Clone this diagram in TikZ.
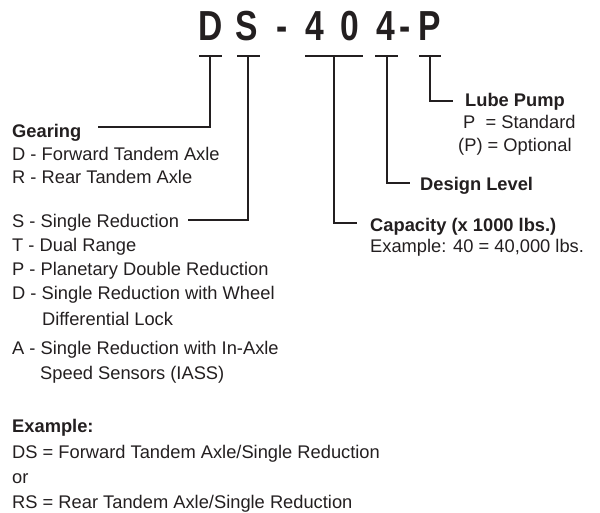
\documentclass[tikz,border=0pt]{standalone}
\usepackage{fontspec}
\setmainfont{Liberation Sans}
\newfontfamily\titlefont{Liberation Sans}[FakeStretch=0.8]
\definecolor{ink}{HTML}{231F20}
\begin{document}
\begin{tikzpicture}[x=1pt,y=-1pt,
  txt/.style={anchor=base west,inner sep=0pt,font=\fontsize{18.3}{21}\selectfont,text=ink},
  bld/.style={txt,font=\fontsize{18.3}{21}\selectfont\bfseries},
  ttl/.style={anchor=base,inner sep=0pt,font=\titlefont\fontsize{42}{46}\selectfont\bfseries,text=ink},
  ln/.style={draw=ink,line width=1.8pt},
  bar/.style={draw=ink,line width=1.8pt}]
\useasboundingbox (0,0) rectangle (600,512);
% title
\node[ttl] (t1) at (211,40) {D};
\node[ttl] (t2) at (247,40) {S};
\node[ttl] (t3) at (282,40) {-};
\node[ttl] (t4) at (315,40) {4};
\node[ttl] (t5) at (350,40) {0};
\node[ttl] (t6) at (386,40) {4};
\node[ttl] (t7) at (405,40) {-};
\node[ttl] (t8) at (430,40) {P};
% bars
\coordinate (b1l) at (199,56); \coordinate (b1r) at (222,56); \coordinate (b1) at (210,56);
\coordinate (b2l) at (237,56); \coordinate (b2r) at (260,56); \coordinate (b2) at (248,56);
\coordinate (b3l) at (305,56); \coordinate (b3r) at (363,56); \coordinate (b3) at (334,56);
\coordinate (b4l) at (375,56); \coordinate (b4r) at (398,56); \coordinate (b4) at (387,56);
\coordinate (b5l) at (419,56); \coordinate (b5r) at (441,56); \coordinate (b5) at (430,56);
\foreach \i in {1,...,5} {\draw[bar] (b\i l) -- (b\i r);}
% left texts
\node[bld] (gear) at (12,137) {Gearing};
\node[txt] (g1) at (12,160) {D - Forward Tandem Axle};
\node[txt] (g2) at (12,183) {R - Rear Tandem Axle};
\node[txt] (s1) at (12,227) {S - Single Reduction};
\node[txt] (s2) at (12,251) {T - Dual Range};
\node[txt] (s3) at (12,275) {P - Planetary Double Reduction};
\node[txt] (s4) at (12,299) {D - Single Reduction with Wheel};
\node[txt] (s4b) at (42,325) {Differential Lock};
\node[txt] (s5) at (12,354) {A - Single Reduction with In-Axle};
\node[txt] (s5b) at (40,379) {Speed Sensors (IASS)};
\node[bld] (ex) at (12,432) {Example:};
\node[txt] (e1) at (12,458) {DS = Forward Tandem Axle/Single Reduction};
\node[txt] (e2) at (12,483) {or};
\node[txt] (e3) at (12,508) {RS = Rear Tandem Axle/Single Reduction};
% right texts
\node[bld] (lube) at (465,106) {Lube Pump};
\node[txt] (l1) at (463,128) {P\ \ = Standard};
\node[txt] (l2) at (458,151) {(P) = Optional};
\node[bld] (des) at (420,190) {Design Level};
\node[bld] (cap) at (370,231) {Capacity (x 1000 lbs.)};
\node[txt] (c1) at (370,252) {Example: 40 = 40,000 lbs.};
% connectors
\coordinate (gl) at (98,127);
\coordinate (sl) at (188,220);
\coordinate (ll) at (453,101);
\coordinate (dl) at (410,183);
\coordinate (cl) at (357,223);
\draw[ln] (b1) |- (gl);
\draw[ln] (b2) |- (sl);
\draw[ln] (b5) |- (ll);
\draw[ln] (b4) |- (dl);
\draw[ln] (b3) |- (cl);
\end{tikzpicture}
\end{document}
